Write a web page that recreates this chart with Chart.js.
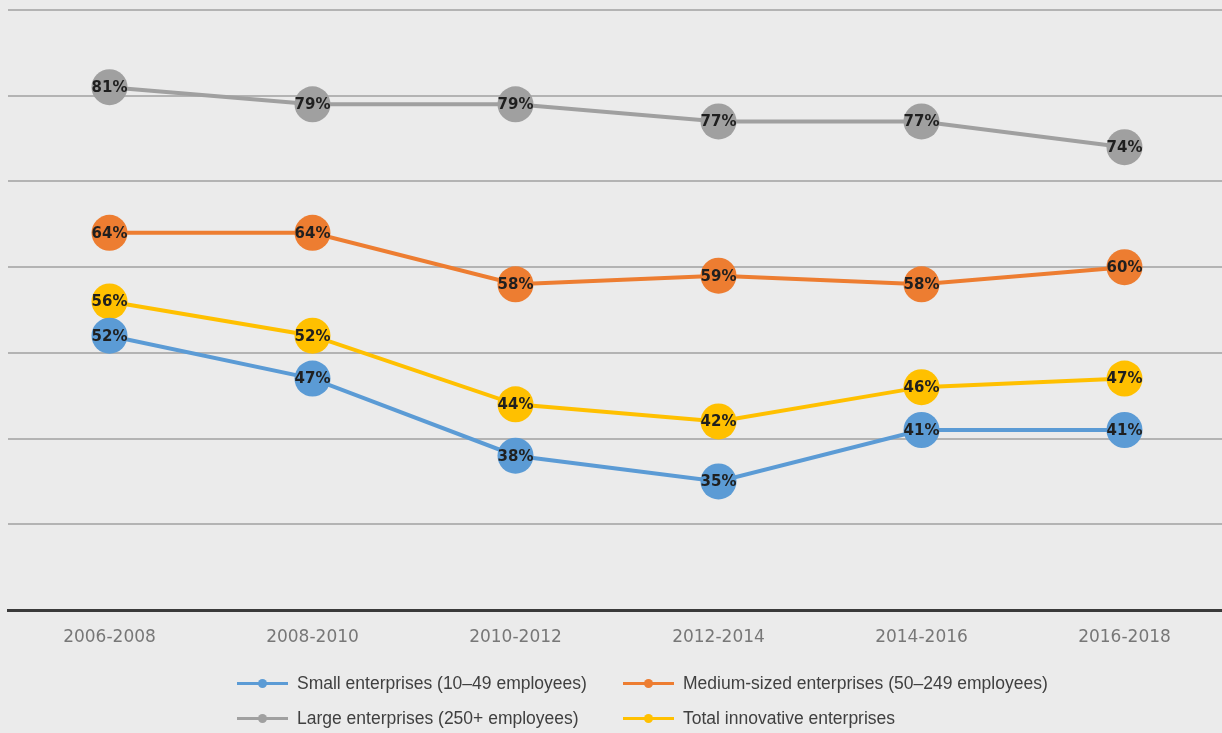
<!DOCTYPE html>
<html>
<head>
<meta charset="utf-8">
<script src="https://cdn.jsdelivr.net/npm/chart.js@4/dist/chart.umd.min.js"></script>
<style>
  html, body { margin: 0; padding: 0; background: #ebebeb; overflow: hidden; }
  #wrap { position: relative; width: 1222px; height: 733px; overflow: hidden; background: #ebebeb; }
  #chart { position: absolute; left: 0; top: 0; }
  .legend-item { position: absolute; display: flex; align-items: center; height: 24px;
    font-family: "Liberation Sans", Arial, sans-serif; font-size: 17.5px; color: #404040; white-space: nowrap; }
  .legend-mark { position: relative; width: 51px; height: 24px; margin-right: 9px; }
  .legend-mark .ln { position: absolute; left: 0; right: 0; top: 10.5px; height: 3px; }
  .legend-mark .dot { position: absolute; left: 21px; top: 7.5px; width: 9px; height: 9px; border-radius: 50%; }
</style>
</head>
<body>
<div id="wrap">
  <canvas id="chart"></canvas>
  <div id="legend"></div>
</div>
<script>
// Periods on the horizontal axis
const categories = ['2006-2008', '2008-2010', '2010-2012', '2012-2014', '2014-2016', '2016-2018'];

// Share of enterprises (%) per period
const smallEnterprises  = [52, 47, 38, 35, 41, 41];
const mediumEnterprises = [64, 64, 58, 59, 58, 60];
const largeEnterprises  = [81, 79, 79, 77, 77, 74];
const totalInnovative   = [56, 52, 44, 42, 46, 47];

const seriesNames = [
  'Small enterprises (10\u201349 employees)',
  'Medium-sized enterprises (50\u2013249 employees)',
  'Large enterprises (250+ employees)',
  'Total innovative enterprises'
];
const seriesColors = ['#5b9bd5', '#ed7d31', '#a0a0a0', '#ffc000'];
const seriesValues = [smallEnterprises, mediumEnterprises, largeEnterprises, totalInnovative];

// Vertical range shown by the gridlines
const yMin = 20, yMax = 90, yStep = 10;

const canvas = document.getElementById('chart');
canvas.width = 1230; canvas.height = 733;
canvas.style.width = '1230px'; canvas.style.height = '733px';

// Writes the value inside each marker
const valueLabels = {
  id: 'valueLabels',
  afterDatasetsDraw(chart) {
    const ctx = chart.ctx;
    ctx.save();
    ctx.font = 'bold 15px "DejaVu Sans", Verdana, sans-serif';
    ctx.fillStyle = '#1f1f1f';
    ctx.textAlign = 'center';
    ctx.textBaseline = 'middle';
    chart.data.datasets.forEach((ds, di) => {
      const meta = chart.getDatasetMeta(di);
      meta.data.forEach((pt, i) => {
        ctx.fillText(ds.data[i] + '%', pt.x, pt.y + 1);
      });
    });
    ctx.restore();
  }
};

new Chart(canvas, {
  type: 'line',
  data: {
    labels: categories,
    datasets: seriesValues.map((vals, i) => ({
      label: seriesNames[i],
      data: vals,
      borderColor: seriesColors[i],
      backgroundColor: seriesColors[i],
      pointBackgroundColor: seriesColors[i],
      pointBorderColor: seriesColors[i],
      borderWidth: 4,
      pointRadius: 18,
      pointHoverRadius: 18,
      pointBorderWidth: 0,
      tension: 0,
      fill: false,
      clip: false
    }))
  },
  options: {
    responsive: false,
    animation: false,
    events: [],
    layout: { autoPadding: false, padding: { left: 8, right: 4, top: 10, bottom: 0 } },
    plugins: { legend: { display: false }, tooltip: { enabled: false } },
    scales: {
      x: {
        offset: true,
        grid: { display: false, drawTicks: false },
        border: { display: true, color: '#3a3a3a', width: 3 },
        ticks: {
          padding: 17,
          color: '#777777',
          font: { family: '"DejaVu Sans", Verdana, sans-serif', size: 17 }
        },
        afterFit(scale) { scale.height = 123; }
      },
      y: {
        min: yMin, max: yMax,
        ticks: { display: false, stepSize: yStep },
        grid: {
          drawTicks: false,
          lineWidth: 2,
          color: (c) => (c.tick && c.tick.value === yMin) ? 'rgba(0,0,0,0)' : '#b3b3b3'
        },
        border: { display: false },
        afterFit(scale) { scale.width = 0; }
      }
    }
  },
  plugins: [valueLabels]
});

// Two-column legend under the plot
const legendPos = [
  { left: 237, top: 671 },
  { left: 623, top: 671 },
  { left: 237, top: 706 },
  { left: 623, top: 706 }
];
const legend = document.getElementById('legend');
seriesNames.forEach((name, i) => {
  const item = document.createElement('div');
  item.className = 'legend-item';
  item.style.left = legendPos[i].left + 'px';
  item.style.top = legendPos[i].top + 'px';
  const mark = document.createElement('span');
  mark.className = 'legend-mark';
  mark.innerHTML = '<span class="ln" style="background:' + seriesColors[i] + '"></span>' +
                   '<span class="dot" style="background:' + seriesColors[i] + '"></span>';
  const txt = document.createElement('span');
  txt.textContent = name;
  item.appendChild(mark);
  item.appendChild(txt);
  legend.appendChild(item);
});
</script>
</body>
</html>
